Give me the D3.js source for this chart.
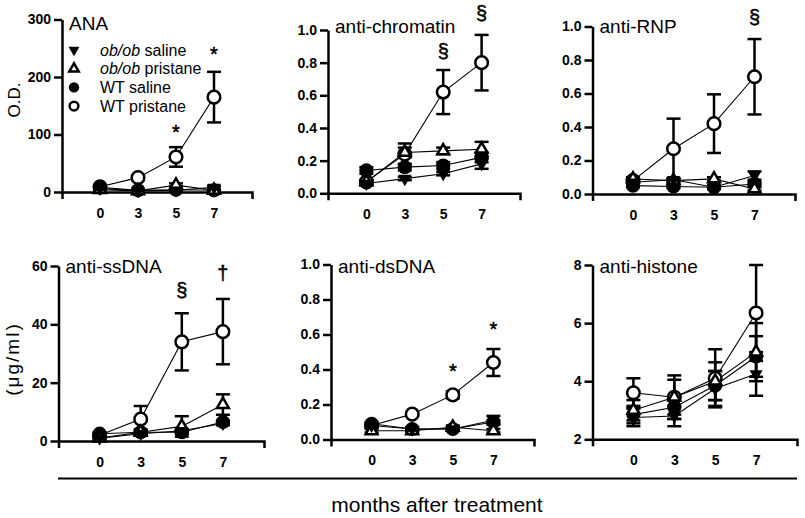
<!DOCTYPE html>
<html lang="en">
<head>
    <meta charset="UTF-8">
    <title>Autoantibodies after pristane</title>
    <script src="https://d3js.org/d3.v7.min.js"></script>
    <style>
        body { margin: 0; background: #fff; }
        svg { font-family: "Liberation Sans", Arial, Helvetica, sans-serif; }
    </style>
</head>
<body>
    <div id="chart"></div>

    <script>
        // data
        const months = ["0", "3", "5", "7"];
        const seriesNames = ["WT pristane", "WT saline", "ob/ob pristane", "ob/ob saline"];

        // each array: [WT pristane, WT saline, ob/ob pristane, ob/ob saline]
        const anaMean = [[9, 25, 61, 165], [8, 3, 4, 3], [4, 2, 12, 3], [6, 2, 3, 8]];
        const anaErr = [[2, 3, 17, 44], [2, 1, 1, 1], [1, 1, 3, 1], [1, 1, 1, 3]];

        const chromatinMean = [[0.07, 0.24, 0.62, 0.80], [0.14, 0.16, 0.17, 0.22], [0.07, 0.25, 0.26, 0.27], [0.06, 0.09, 0.12, 0.18]];
        const chromatinErr = [[0.01, 0.065, 0.135, 0.17], [0.02, 0.02, 0.02, 0.03], [0.01, 0.03, 0.02, 0.045], [0.01, 0.01, 0.01, 0.03]];

        const rnpMean = [[0.08, 0.27, 0.42, 0.70], [0.05, 0.045, 0.04, 0.06], [0.09, 0.08, 0.09, 0.03], [0.07, 0.085, 0.04, 0.11]];
        const rnpErr = [[0.01, 0.18, 0.175, 0.225], [0.01, 0.01, 0.01, 0.01], [0.01, 0.01, 0.01, 0.01], [0.01, 0.01, 0.01, 0.025]];

        const ssdnaMean = [[2, 7.5, 34, 37.5], [2.5, 3, 3, 6.5], [1, 3, 5, 12.5], [1, 2.5, 3.5, 6]];
        const ssdnaErr = [[0.5, 4.5, 9.8, 11.2], [0.5, 0.5, 0.5, 0.5], [0.3, 1, 3.5, 3.5], [0.3, 0.5, 0.6, 0.6]];

        const dsdnaMean = [[0.08, 0.145, 0.255, 0.44], [0.09, 0.06, 0.06, 0.10], [0.05, 0.05, 0.07, 0.05], [0.08, 0.06, 0.06, 0.11]];
        const dsdnaErr = [[0.01, 0.01, 0.02, 0.077], [0.01, 0.01, 0.01, 0.01], [0.01, 0.01, 0.01, 0.01], [0.01, 0.01, 0.01, 0.025]];

        const histoneMean = [[3.6, 3.45, 4.1, 6.35], [2.85, 3.1, 3.85, 4.85], [3.0, 3.45, 4.0, 5.0], [2.75, 2.8, 3.75, 4.25]];
        const histoneErr = [[0.5, 0.75, 1.0, 1.65], [0.3, 0.4, 0.5, 0.7], [0.35, 0.6, 0.65, 1.0], [0.3, 0.35, 0.6, 0.75]];

        const anaTicks = [0, 100, 200, 300];
        const fractionTicks = [0, 0.2, 0.4, 0.6, 0.8, 1.0];
        const ssdnaTicks = [0, 20, 40, 60];
        const histoneTicks = [2, 4, 6, 8];

        // significance marks: panel index, month, label, height in data units
        const sigMarks = [
            [0, "5", "*", 112], [0, "7", "*", 247],
            [1, "5", "§", 0.865], [1, "7", "§", 1.10],
            [2, "7", "§", 1.05],
            [3, "5", "§", 51.4], [3, "7", "†", 57.2],
            [4, "5", "*", 0.414], [4, "7", "*", 0.654]
        ];

        // panel layout
        const panels = [
            { title: "ANA", mean: anaMean, err: anaErr, ticks: anaTicks, fmt: d3.format("d"),
              x0: 62, x1: 252, yTop: 19.5, yBot: 192, titleY: 30 },
            { title: "anti-chromatin", mean: chromatinMean, err: chromatinErr, ticks: fractionTicks, fmt: d3.format(".1f"),
              x0: 328, x1: 520, yTop: 30, yBot: 193.3, titleY: 33 },
            { title: "anti-RNP", mean: rnpMean, err: rnpErr, ticks: fractionTicks, fmt: d3.format(".1f"),
              x0: 592.5, x1: 795, yTop: 26.5, yBot: 194, titleY: 33 },
            { title: "anti-ssDNA", mean: ssdnaMean, err: ssdnaErr, ticks: ssdnaTicks, fmt: d3.format("d"),
              x0: 58.5, x1: 264, yTop: 266, yBot: 441, titleY: 273 },
            { title: "anti-dsDNA", mean: dsdnaMean, err: dsdnaErr, ticks: fractionTicks, fmt: d3.format(".1f"),
              x0: 331, x1: 534, yTop: 264.5, yBot: 439.5, titleY: 273 },
            { title: "anti-histone", mean: histoneMean, err: histoneErr, ticks: histoneTicks, fmt: d3.format("d"),
              x0: 592.5, x1: 797, yTop: 265, yBot: 439.3, titleY: 272.5 }
        ];

        const width = 805;
        const height = 518;

        const svg = d3.select("#chart").append("svg")
            .attr("width", width)
            .attr("height", height);

        // marker drawing for each series (same order as seriesNames)
        function drawMarker(sel, i, big) {
            const tri = big ? 60 : 38;
            const r = big ? 6.3 : 4.4;
            if (i === 0) {
                sel.append("circle").attr("r", r).attr("fill", "#fff").attr("stroke", "#000").attr("stroke-width", 2.5);
            } else if (i === 1) {
                sel.append("circle").attr("r", r + 0.8).attr("fill", "#000");
            } else if (i === 2) {
                sel.append("path").attr("d", d3.symbol(d3.symbolTriangle, tri)())
                    .attr("fill", "#fff").attr("stroke", "#000").attr("stroke-width", 2.5);
            } else {
                sel.append("path").attr("d", d3.symbol(d3.symbolTriangle, tri + 14)())
                    .attr("transform", "rotate(180)")
                    .attr("fill", "#000");
            }
        }

        function styleAxis(ax) {
            ax.attr("font-family", null).attr("font-size", null);
            ax.select(".domain").attr("stroke-width", 2.5);
            ax.selectAll(".tick line").attr("stroke-width", 2.5);
            ax.selectAll(".tick text")
                .attr("font-size", "14px")
                .attr("font-weight", "bold")
                .attr("fill", "#000");
        }

        panels.forEach((p, pi) => {
            const x = d3.scalePoint().domain(months).range([p.x0, p.x1]).padding(1);
            const y = d3.scaleLinear()
                .domain([p.ticks[0], p.ticks[p.ticks.length - 1]])
                .range([p.yBot, p.yTop]);

            const g = svg.append("g");

            // axes
            const xAxis = g.append("g")
                .attr("transform", `translate(0,${p.yBot})`)
                .call(d3.axisBottom(x).tickSizeInner(0).tickSizeOuter(7).tickPadding(16));
            styleAxis(xAxis);

            const yAxis = g.append("g")
                .attr("transform", `translate(${p.x0},0)`)
                .call(d3.axisLeft(y).tickValues(p.ticks).tickFormat(p.fmt).tickSize(8).tickSizeOuter(0).tickPadding(3));
            styleAxis(yAxis);

            // title
            g.append("text")
                .attr("x", p.x0 + 7)
                .attr("y", p.titleY)
                .attr("font-size", "19px")
                .text(p.title);

            // connecting lines
            const line = d3.line().x((d, i) => x(months[i])).y(d => y(d));
            p.mean.forEach(s => {
                g.append("path")
                    .attr("d", line(s))
                    .attr("fill", "none")
                    .attr("stroke", "#000")
                    .attr("stroke-width", 1.1);
            });

            // error bars
            p.mean.forEach((s, si) => {
                s.forEach((v, mi) => {
                    const e = p.err[si][mi];
                    const cx = x(months[mi]);
                    const eb = g.append("g").attr("stroke", "#000").attr("stroke-width", 2.5);
                    eb.append("line").attr("x1", cx).attr("x2", cx).attr("y1", y(v - e)).attr("y2", y(v + e));
                    eb.append("line").attr("x1", cx - 7).attr("x2", cx + 7).attr("y1", y(v + e)).attr("y2", y(v + e));
                    eb.append("line").attr("x1", cx - 7).attr("x2", cx + 7).attr("y1", y(v - e)).attr("y2", y(v - e));
                });
            });

            // markers
            p.mean.forEach((s, si) => {
                s.forEach((v, mi) => {
                    const m = g.append("g").attr("transform", `translate(${x(months[mi])},${y(v)})`);
                    drawMarker(m, si, true);
                });
            });

            // significance marks
            sigMarks.filter(d => d[0] === pi).forEach(d => {
                g.append("text")
                    .attr("x", x(d[1]))
                    .attr("y", y(d[3]))
                    .attr("dy", d[2] === "*" ? "0.56em" : "0.3em")
                    .attr("text-anchor", "middle")
                    .attr("font-size", "20px")
                    .attr("fill", "#000")
                    .attr("stroke", "#000")
                    .attr("stroke-width", 0.5)
                    .text(d[2]);
            });
        });

        // legend in the ANA panel
        const legendOrder = [3, 2, 1, 0];
        const legend = svg.append("g");
        legendOrder.forEach((si, row) => {
            const cy = 50 + row * 18.7;
            const m = legend.append("g").attr("transform", `translate(74,${cy})`);
            drawMarker(m, si, false);
            const t = legend.append("text")
                .attr("x", 100)
                .attr("y", cy + 5.5)
                .attr("font-size", "16px");
            const name = seriesNames[si];
            if (name.startsWith("ob/ob")) {
                t.append("tspan").attr("font-style", "italic").text("ob/ob");
                t.append("tspan").text(name.slice(5));
            } else {
                t.text(name);
            }
        });

        // y-axis titles
        svg.append("text")
            .attr("transform", "translate(20,100) rotate(-90)")
            .attr("text-anchor", "middle")
            .attr("font-size", "17px")
            .text("O.D.");

        svg.append("text")
            .attr("transform", "translate(19,359) rotate(-90)")
            .attr("text-anchor", "middle")
            .attr("font-size", "19px")
            .attr("letter-spacing", "2px")
            .text("(μg/ml)");

        // shared x title
        svg.append("line")
            .attr("x1", 58).attr("x2", 797)
            .attr("y1", 478.5).attr("y2", 478.5)
            .attr("stroke", "#000")
            .attr("stroke-width", 2);

        svg.append("text")
            .attr("x", 437)
            .attr("y", 512)
            .attr("text-anchor", "middle")
            .attr("font-size", "21px")
            .text("months after treatment");
    </script>
</body>
</html>
